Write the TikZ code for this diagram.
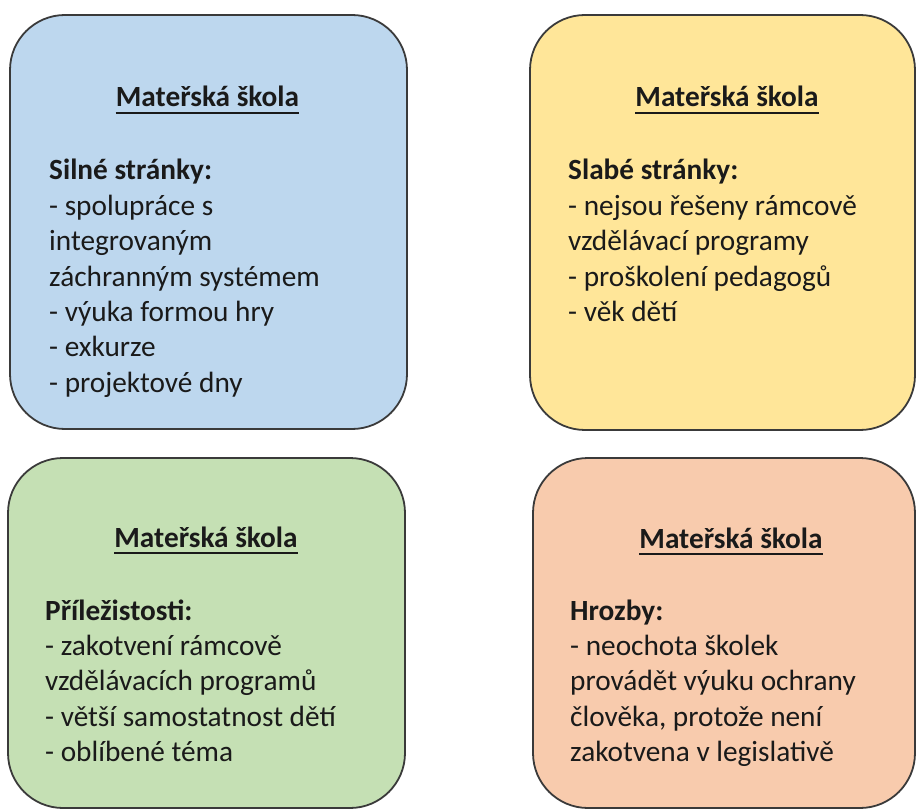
\documentclass[tikz,border=0pt]{standalone}
\usepackage{fontspec}
\setmainfont{Carlito}
\definecolor{sblue}{HTML}{BDD7EE}
\definecolor{syellow}{HTML}{FFE699}
\definecolor{sgreen}{HTML}{C5E0B4}
\definecolor{sorange}{HTML}{F8CBAD}
\definecolor{sline}{HTML}{3A3A3A}
\definecolor{stext}{HTML}{1A1A1A}
\begin{document}
\begin{tikzpicture}[x=1pt,y=-1pt,
  quad/.style={draw=sline, line width=1.8pt, rounded corners=55pt, inner sep=0pt},
  ttl/.style={inner sep=0pt, anchor=base, text=stext, font=\bfseries\fontsize{29.3}{35.4}\selectfont},
  bodytext/.style={inner sep=0pt, anchor=base west, text=stext, font=\fontsize{29.3}{35.4}\selectfont},
  uline/.style={line width=1.6pt, draw=stext}]
\useasboundingbox (0,0) rectangle (916,810);
% boxes
\node[quad, fill=sblue, minimum width=397pt, minimum height=414pt] (bS) at (208.5,222) {};
\node[quad, fill=syellow, minimum width=385pt, minimum height=415pt] (bW) at (722.5,222.5) {};
\node[quad, fill=sgreen, minimum width=397pt, minimum height=350pt] (bO) at (206.5,633) {};
\node[quad, fill=sorange, minimum width=382pt, minimum height=350pt] (bT) at (724,633) {};
% titles
\node[ttl] (tS) at (207.5,107) {Mateřská škola};
\node[ttl] (tW) at (727,107) {Mateřská škola};
\node[ttl] (tO) at (206,547) {Mateřská škola};
\node[ttl] (tT) at (731,548) {Mateřská škola};
\foreach \t in {tS,tW,tO,tT}{
  \draw[uline] ([yshift=-6pt]\t.base west) -- ([yshift=-6pt]\t.base east);
}
% bodies
\node[bodytext] (xS) at (49,180) {\parbox[t]{350pt}{\raggedright\textbf{Silné stránky:}\\
- spolupráce s\\
integrovaným\\
záchranným systémem\\
- výuka formou hry\\
- exkurze\\
- projektové dny}};
\node[bodytext] (xW) at (568,180) {\parbox[t]{350pt}{\raggedright\textbf{Slabé stránky:}\\
- nejsou řešeny rámcově\\
vzdělávací programy\\
- proškolení pedagogů\\
- věk dětí}};
\node[bodytext] (xO) at (45,620) {\parbox[t]{350pt}{\raggedright\textbf{Příležistosti:}\\
- zakotvení rámcově\\
vzdělávacích programů\\
- větší samostatnost dětí\\
- oblíbené téma}};
\node[bodytext] (xT) at (570,620) {\parbox[t]{350pt}{\raggedright\textbf{Hrozby:}\\
- neochota školek\\
provádět výuku ochrany\\
člověka, protože není\\
zakotvena v legislativě}};
\end{tikzpicture}
\end{document}
